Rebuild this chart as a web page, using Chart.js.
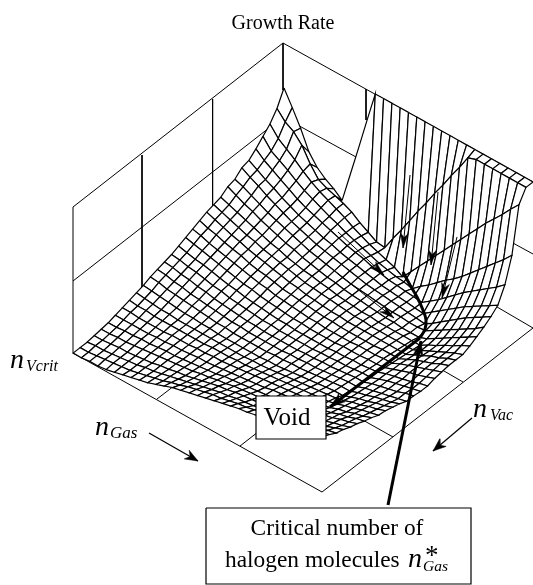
<!DOCTYPE html>
<html>
<head>
<meta charset="utf-8">
<title>Growth Rate</title>
<script src="https://cdn.jsdelivr.net/npm/chart.js@4/dist/chart.umd.min.js"></script>
<style>
  html, body { margin: 0; padding: 0; background: #fff; }
  #wrap { width: 533px; height: 585px; }
</style>
</head>
<body>
<div id="wrap"><canvas id="c" width="533" height="585"></canvas></div>
<script>
// ---- Surface height. One row per nVac step, one value per nGas step ----
const surfaceHeights = [
  [101,86,70,51,40,33,28,21,52,83,115,146,146,146,146,146,146,146,146,146,146,146,146,146,146,146,146,146,146,146,146],
  [86,77,72,63,49,38,34,31,28,24,18,13,8,7,21,34,48,62,75,89,102,116,129,143,146,146,146,146,146,146,146],
  [76,66,60,54,47,41,36,32,28,24,19,15,11,8,5,2,-3,7,17,27,37,47,57,67,77,87,97,106,115,125,134],
  [69,59,54,49,43,38,34,30,26,23,19,16,13,10,7,5,3,2,0,7,13,20,27,33,40,48,56,64,72,80,89],
  [62,55,50,45,40,35,31,28,25,22,19,16,14,12,9,7,5,4,3,2,1,7,13,20,27,34,40,46,52,58,65],
  [56,51,46,42,37,33,29,26,23,20,18,15,13,11,9,7,5,4,3,2,1,0,6,12,18,24,30,35,40,45,50],
  [54,49,45,40,36,32,28,25,22,19,17,15,13,11,9,7,6,5,4,3,2,1,0,5,11,17,23,29,34,39,44],
  [48,45,41,37,33,30,27,24,21,18,16,14,12,10,8,7,6,5,4,3,3,2,2,3,8,13,18,23,28,33,39],
  [46,42,38,35,31,28,25,22,20,17,15,13,11,10,8,7,6,5,4,3,3,2,2,2,5,10,15,20,25,30,35],
  [41,38,35,32,29,26,23,21,18,16,14,13,11,10,8,7,6,5,5,4,4,4,4,4,4,9,13,18,22,27,31],
  [39,36,33,30,27,25,22,20,18,16,14,12,11,10,9,8,7,6,6,5,5,5,5,5,5,9,13,17,21,25,28],
  [37,34,31,28,26,23,21,19,17,15,13,12,10,9,8,7,7,6,6,6,6,6,6,6,6,10,14,18,21,25,28],
  [34,31,29,26,24,22,19,17,16,14,12,11,10,9,8,7,7,6,6,6,6,6,7,7,7,11,15,18,21,25,28],
  [31,29,26,24,22,20,18,16,14,13,11,10,9,8,7,7,6,6,6,6,7,7,7,8,8,12,15,18,21,24,27],
  [28,26,24,22,20,18,16,14,13,11,10,9,8,7,7,6,6,6,6,7,7,7,8,8,9,12,15,18,20,23,26],
  [25,23,21,20,18,16,14,13,11,10,9,8,7,7,6,6,6,6,6,7,7,8,8,9,10,13,15,17,19,22,24],
  [22,21,19,18,16,14,13,11,10,9,8,7,7,6,6,6,6,6,7,7,8,8,9,10,10,13,16,18,20,22,24],
  [20,19,17,16,14,13,11,10,9,8,7,7,6,6,6,6,6,7,7,8,8,9,10,11,11,14,16,18,20,23,25],
  [18,17,15,14,12,11,10,9,8,7,7,6,6,6,6,6,7,7,8,8,9,10,11,12,12,15,17,19,21,23,25],
  [16,15,13,12,11,10,9,8,7,7,6,6,6,6,6,7,7,8,8,9,10,11,12,13,13,16,18,21,23,25,28],
  [13,12,11,10,9,8,8,7,7,6,6,6,6,6,6,7,7,8,9,10,11,12,13,14,14,17,20,22,25,27,30],
  [11,10,9,8,8,7,7,7,7,7,7,7,7,7,8,8,9,10,11,12,13,14,15,16,17,19,22,24,27,29,32],
  [9,8,8,7,7,7,7,7,7,7,8,8,8,9,9,10,11,12,13,14,15,16,17,18,19,21,24,26,29,31,33],
  [7,7,6,6,6,6,7,7,7,8,8,9,9,10,11,12,13,14,15,16,17,18,19,20,21,23,26,28,31,33,36],
  [5,5,5,5,5,6,6,7,7,8,9,9,10,11,12,13,14,15,16,18,19,20,21,22,23,26,28,31,33,36,38],
  [3,3,4,4,5,5,6,7,7,8,9,10,11,12,14,15,16,17,18,19,20,21,22,24,25,28,31,33,36,38,41],
  [2,2,3,3,4,5,6,7,8,9,10,11,13,14,16,17,19,20,21,22,23,24,26,27,29,30,33,35,38,40,43],
  [1,1,2,3,3,4,5,6,8,9,11,12,14,16,18,20,21,23,24,25,26,28,29,31,32,33,35,38,40,43,46],
  [0,1,1,2,3,4,5,7,8,10,12,14,16,18,20,22,24,25,27,28,29,31,32,34,36,38,40,42,44,46,48],
  [0,0,1,2,3,4,5,7,9,11,13,16,18,21,23,25,27,28,30,32,33,35,37,38,40,42,44,46,48,50,52],
  [0,0,1,1,2,4,6,8,10,12,15,18,21,23,25,27,29,31,33,35,37,38,40,42,43,45,47,49,51,53,55]
];

// ---- Walls and floor of the box, each list is x,y,x,y... ----
const boxLines = [
  [73,353, 73,207, 283,43, 533,182],
  [283,43, 283,90],
  [73,281, 283,117, 533,254],
  [142,155, 142,292],
  [212.6,99, 212.6,210],
  [366,89, 366,120],
  [73,353, 322,492, 533,328, 480,297],
  [157,399, 200,366],
  [240,446, 285,411],
  [393,437, 345,410],
  [463,382, 425,360]
];

// ---- Thin arrows: from x,y then tip x,y ----
const thinArrows = [
  [410,175, 403,248],
  [438,192, 431,265],
  [457,237, 442,298],
  [338,232, 384,275],
  [337,273, 394,318]
];
const labelArrows = [
  [149,433, 198,461],
  [472,418, 433,451]
];
const boldArrows = [
  [420,338, 330,407],
  [388,505, 421,341]
];
const criticalCurve = [403,272, 410,285, 417,297, 423,310, 426,320, 425,329, 420,338];

// ---- Label boxes: left, top, right, bottom ----
const voidBox = [256,396, 326,439];
const criticalBox = [206,508, 471,584];

// ---- Texts: text, x, baseline y, font ----
const SERIF = '"Liberation Serif"';
const texts = [
  ['n', 10, 368, 'italic 28px ' + SERIF, 'left'],
  ['Vcrit', 26, 371, 'italic 16px ' + SERIF, 'left'],
  ['n', 95, 435, 'italic 28px ' + SERIF, 'left'],
  ['Gas', 110, 438, 'italic 17px ' + SERIF, 'left'],
  ['n', 473, 417, 'italic 28px ' + SERIF, 'left'],
  ['Vac', 490, 420, 'italic 16px ' + SERIF, 'left'],
  ['Void', 287, 425, '25px ' + SERIF, 'center'],
  ['Critical number of', 337, 535, '23.4px ' + SERIF, 'center'],
  ['halogen molecules', 225, 567, '23.4px ' + SERIF, 'left'],
  ['n', 408, 567, 'italic 28px ' + SERIF, 'left'],
  ['*', 425, 564, '27px ' + SERIF, 'left'],
  ['Gas', 423, 571, 'italic 15.5px ' + SERIF, 'left']
];

// ---- Projection of surface nodes to the picture's coordinates ----
function node(i, j) {
  return {
    x: 284 + 8.3 * i - 7.03 * j,
    y: 189 + 4.63 * i + 5.47 * j - surfaceHeights[j][i]
  };
}

function toPoints(list) {
  const pts = [];
  for (let k = 0; k < list.length; k += 2) pts.push({ x: list[k], y: list[k + 1] });
  return pts;
}

function lineSet(points, width, extra) {
  return Object.assign({
    data: points,
    showLine: true,
    borderColor: '#000',
    borderWidth: width,
    pointRadius: 0,
    fill: false,
    tension: 0
  }, extra || {});
}

function shapeSet(points, width, color) {
  return lineSet(points, width, { fill: 'shape', backgroundColor: color });
}

function rectPoints(b) {
  return [{ x: b[0], y: b[1] }, { x: b[2], y: b[1] }, { x: b[2], y: b[3] }, { x: b[0], y: b[3] }, { x: b[0], y: b[1] }];
}

function arrowHead(a, len, half) {
  const dx = a[2] - a[0], dy = a[3] - a[1];
  const d = Math.hypot(dx, dy), ux = dx / d, uy = dy / d;
  const tip = { x: a[2], y: a[3] };
  return [
    tip,
    { x: tip.x - ux * len - uy * half, y: tip.y - uy * len + ux * half },
    { x: tip.x - ux * len * 0.7, y: tip.y - uy * len * 0.7 },
    { x: tip.x - ux * len + uy * half, y: tip.y - uy * len - ux * half },
    tip
  ];
}

// ---- Datasets in painting order, back to front ----
const layers = [];
boxLines.forEach(l => layers.push(lineSet(toPoints(l), 1)));

for (let j = 0; j < 30; j++) {
  for (let i = 0; i < 30; i++) {
    // the steep flank beside the peak has no mesh lines, it is one patch below
    if (j === 0 && i >= 7 && i <= 10) {
      if (i === 7) {
        const patch = [];
        for (let k = 7; k <= 11; k++) patch.push(node(k, 0));
        for (let k = 11; k >= 7; k--) patch.push(node(k, 1));
        patch.push(node(7, 0));
        layers.push(shapeSet(patch, 1.2, '#fff'));
      }
      continue;
    }
    layers.push(shapeSet([node(i, j), node(i + 1, j), node(i + 1, j + 1), node(i, j + 1), node(i, j)], 1.2, '#fff'));
  }
}

thinArrows.forEach(a => {
  layers.push(lineSet(toPoints(a), 1));
  layers.push(shapeSet(arrowHead(a, 15, 4), 0.5, '#000'));
});
labelArrows.forEach(a => {
  layers.push(lineSet(toPoints(a), 1.2));
  layers.push(shapeSet(arrowHead(a, 13, 5), 0.5, '#000'));
});
layers.push(lineSet(toPoints(criticalCurve), 3, { tension: 0.4 }));
layers.push(shapeSet(rectPoints(voidBox), 1.2, '#fff'));
boldArrows.forEach(a => {
  layers.push(lineSet(toPoints(a), 3));
  layers.push(shapeSet(arrowHead(a, 15, 5), 0.5, '#000'));
});
layers.push(shapeSet(rectPoints(criticalBox), 1.2, '#fff'));

// ---- Plugin for the text labels inside the picture ----
const labelPlugin = {
  id: 'pictureLabels',
  afterDraw(chart) {
    const { ctx, scales } = chart;
    ctx.save();
    ctx.fillStyle = '#000';
    ctx.textBaseline = 'alphabetic';
    texts.forEach(t => {
      ctx.font = t[3];
      ctx.textAlign = t[4];
      ctx.fillText(t[0], scales.x.getPixelForValue(t[1]), scales.y.getPixelForValue(t[2]));
    });
    ctx.restore();
  }
};

new Chart(document.getElementById('c').getContext('2d'), {
  type: 'scatter',
  data: { datasets: layers.slice().reverse() },
  plugins: [labelPlugin],
  options: {
    responsive: false,
    animation: false,
    events: [],
    layout: { padding: { left: 33 } },
    plugins: {
      legend: { display: false },
      tooltip: { enabled: false },
      title: {
        display: true,
        fullSize: false,
        text: 'Growth Rate',
        color: '#000',
        font: { family: SERIF, size: 20, weight: 'normal', lineHeight: 1.2 },
        padding: { top: 12, bottom: 4 }
      }
    },
    scales: {
      x: { type: 'linear', display: false, min: 33, max: 533 },
      y: { type: 'linear', display: false, min: 40, max: 585, reverse: true }
    }
  }
});
</script>
</body>
</html>
